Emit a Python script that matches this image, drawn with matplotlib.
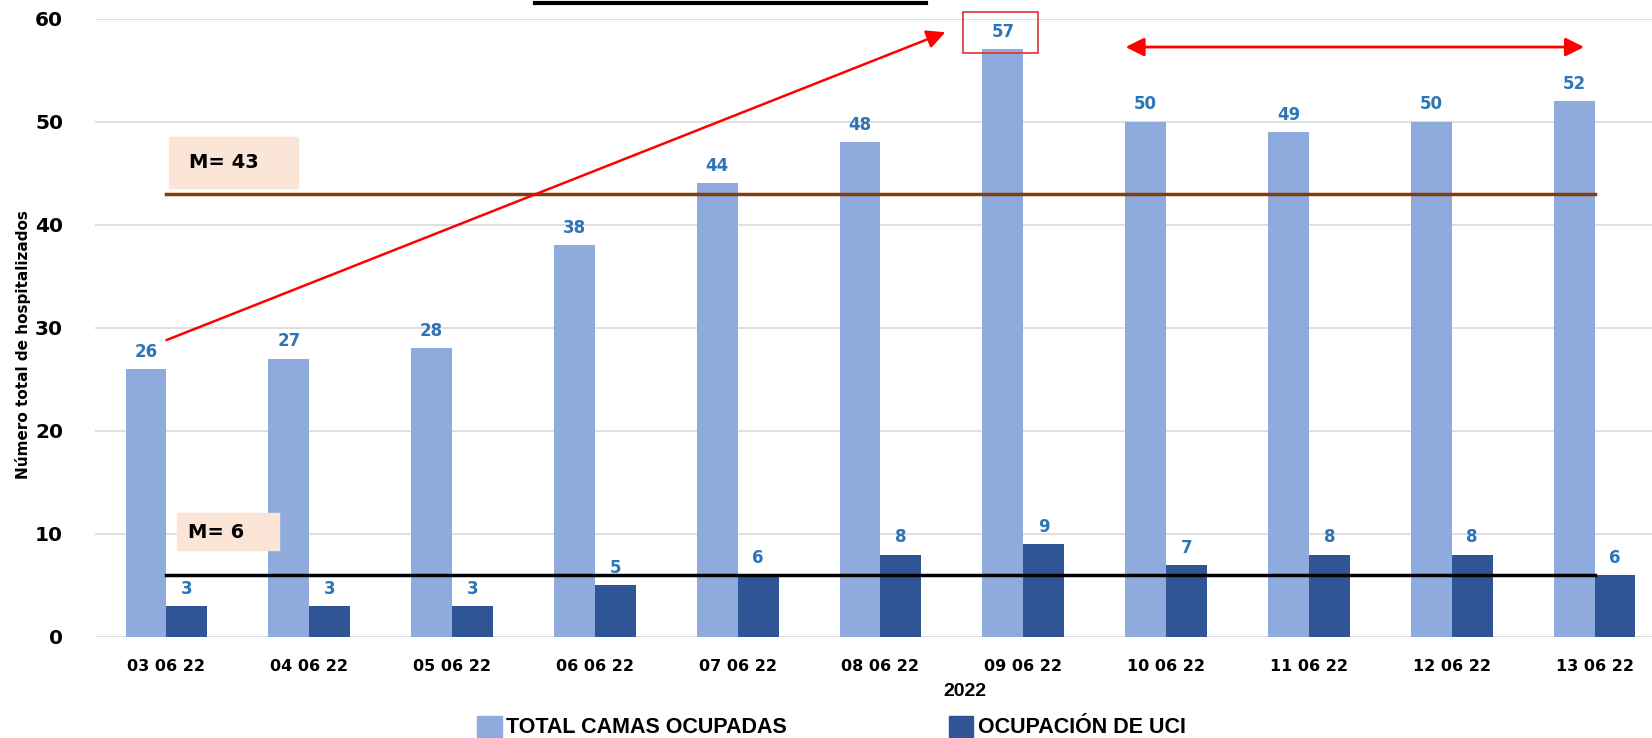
import numpy as np
import matplotlib.pyplot as plt
from matplotlib.patches import Patch, Rectangle
from matplotlib.lines import Line2D

# datos
fechas = ['03 06 22', '04 06 22', '05 06 22', '06 06 22', '07 06 22', '08 06 22',
          '09 06 22', '10 06 22', '11 06 22', '12 06 22', '13 06 22']
total_camas = [26, 27, 28, 38, 44, 48, 57, 50, 49, 50, 52]
ocupacion_uci = [3, 3, 3, 5, 6, 8, 9, 7, 8, 8, 6]
media_total = 43
media_uci = 6

col_claro = '#8FAADC'
col_oscuro = '#2F5597'
col_etiq = '#2E75B6'
fuente_estrecha = ['Liberation Sans', 'DejaVu Sans']

W, H = 1652, 738
fig = plt.figure(figsize=(W / 100, H / 100), dpi=100)
ax = fig.add_axes([95 / W, 101 / H, (1666 - 95) / W, (637 - 18.5) / H])

x = np.arange(len(fechas))
ancho = 0.286
b1 = ax.bar(x - ancho / 2, total_camas, ancho, color=col_claro, zorder=2)
b2 = ax.bar(x + ancho / 2, ocupacion_uci, ancho, color=col_oscuro, zorder=2)

for barras in (b1, b2):
    for b in barras:
        ax.annotate(str(int(b.get_height())), (b.get_x() + b.get_width() / 2, b.get_height()),
                    xytext=(0, 6), textcoords='offset points', ha='center', va='bottom',
                    fontsize=12, fontweight='bold', color=col_etiq)

# lineas de media
ax.plot([x[0], x[-1]], [media_total, media_total], color='#843C0C', lw=2.5, zorder=3)
ax.plot([x[0], x[-1]], [media_uci, media_uci], color='black', lw=2.5, zorder=3)

ax.text(0.16, 46.05, f'M= {media_total}', fontsize=14, fontweight='bold', va='center', zorder=5)
ax.add_patch(Rectangle((0.015, 43.6), 0.905, 4.9, color='#FBE5D6', zorder=4))
ax.text(0.148, 10.15, f'M= {media_uci}', fontsize=14, fontweight='bold', va='center', zorder=5)
ax.add_patch(Rectangle((0.074, 8.41), 0.716, 3.59, color='#FBE5D6', zorder=4))

# flechas y recuadro
ax.annotate('', xy=(5.454, 58.67), xytext=(0, 28.8), zorder=6,
            arrowprops=dict(arrowstyle='-|>', color='red', lw=1.8, mutation_scale=28,
                            shrinkA=0, shrinkB=0))
ax.annotate('', xy=(9.926, 57.23), xytext=(6.716, 57.23), zorder=6,
            arrowprops=dict(arrowstyle='<|-|>', color='red', lw=2, mutation_scale=28,
                            shrinkA=0, shrinkB=0))
ax.add_patch(Rectangle((5.58, 56.7), 0.52, 3.9, fill=False, ec='#E03030', lw=1.2,
                       clip_on=False, zorder=6))

ax.set_xlim(-0.5, 10.5)
ax.set_ylim(0, 60)
ax.set_yticks(range(0, 61, 10))
ax.set_xticks(x)
ax.set_xticklabels(fechas, fontsize=11.5, fontweight='bold')
for t in ax.get_yticklabels():
    t.set_fontsize(14.5)
    t.set_fontweight('bold')
ax.tick_params(axis='both', length=0)
ax.tick_params(axis='x', pad=16)
ax.tick_params(axis='y', pad=23)
ax.grid(axis='y', color='#D9D9D9', lw=1.2, zorder=0)
ax.set_axisbelow(True)
for s in ax.spines.values():
    s.set_visible(False)

fig.text(23 / W, 1 - 345 / H, 'Número total de hospitalizados', rotation=90, ha='center',
         va='center', fontsize=11, fontweight='bold')
fig.text(965 / W, 1 - 692 / H, '2022', ha='center', va='center', fontsize=14,
         fontweight='bold', family=fuente_estrecha)

manijas = [Patch(color=col_claro), Patch(color=col_oscuro)]
fig.legend(manijas, ['TOTAL CAMAS OCUPADAS', 'OCUPACIÓN DE UCI'], loc='center',
           bbox_to_anchor=(831.5 / W, 1 - 727 / H), ncol=2, frameon=False,
           prop=dict(family=fuente_estrecha, weight='bold', size=15.5),
           handlelength=1.15, handleheight=1.15, handletextpad=0.2, columnspacing=7.5)

# resto del titulo cortado arriba
fig.add_artist(Line2D([535 / W, 926 / W], [1 - 3 / H, 1 - 3 / H], color='black', lw=3))

fig.savefig('out.png', dpi=100)
